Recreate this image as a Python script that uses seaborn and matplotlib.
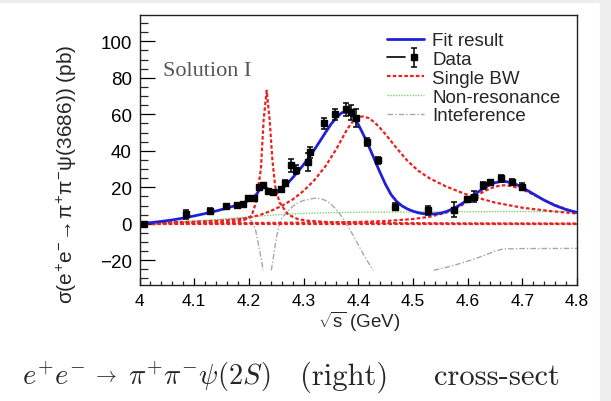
import matplotlib
matplotlib.use("Agg")
import matplotlib.pyplot as plt
from matplotlib.lines import Line2D
from matplotlib.patches import Rectangle
from matplotlib.ticker import MultipleLocator
from matplotlib.legend_handler import HandlerTuple
import seaborn as sns

# --- measured cross sections (sqrt(s) in GeV, sigma in pb) ---
data_x = [4.0076, 4.0855, 4.1285, 4.1574, 4.1781, 4.1889, 4.1990, 4.2092, 4.2187,
          4.2263, 4.2357, 4.2438, 4.2580, 4.2667, 4.2777, 4.2866, 4.3079, 4.3121,
          4.3374, 4.3583, 4.3774, 4.3874, 4.3964, 4.4156, 4.4362, 4.4671, 4.5271,
          4.5745, 4.5995, 4.6119, 4.6280, 4.6409, 4.6612, 4.6819, 4.6988]
data_y = [0.0, 5.3, 7.2, 9.9, 10.5, 10.7, 14.2, 14.0, 20.3, 21.2, 17.8, 17.2, 18.8,
          22.5, 32.0, 29.6, 34.0, 39.3, 55.0, 60.0, 62.8, 61.0, 58.0, 44.8, 34.8,
          9.3, 7.5, 7.7, 13.4, 14.7, 21.0, 22.7, 25.0, 23.1, 20.3]
data_err = [0.8, 2.5, 1.2, 1.0, 0.8, 1.0, 1.2, 1.2, 1.2, 1.0, 1.2, 1.2, 1.2, 1.5,
            3.5, 2.5, 5.0, 3.0, 3.0, 3.0, 3.5, 4.0, 5.0, 2.0, 2.0, 2.0, 2.5, 4.0,
            1.2, 3.0, 2.0, 1.5, 2.0, 1.5, 2.0]

# --- total fit ---
fit_x = [4.00, 4.02, 4.04, 4.06, 4.08, 4.10, 4.12, 4.14, 4.16, 4.18, 4.19, 4.20,
         4.21, 4.215, 4.22, 4.225, 4.23, 4.235, 4.24, 4.245, 4.25, 4.26, 4.27,
         4.28, 4.29, 4.30, 4.31, 4.32, 4.33, 4.34, 4.35, 4.36, 4.37, 4.38, 4.39,
         4.40, 4.41, 4.42, 4.43, 4.44, 4.45, 4.46, 4.47, 4.48, 4.49, 4.50, 4.51,
         4.52, 4.53, 4.54, 4.55, 4.56, 4.57, 4.58, 4.59, 4.60, 4.61, 4.62, 4.63,
         4.64, 4.65, 4.66, 4.67, 4.68, 4.69, 4.70, 4.72, 4.74, 4.76, 4.78, 4.80]
fit_y = [0.0, 0.6, 1.3, 2.1, 3.1, 4.3, 5.6, 7.0, 8.6, 10.4, 11.5, 12.8, 14.8,
         16.6, 18.9, 20.3, 20.2, 19.0, 17.8, 17.3, 17.6, 19.3, 21.9, 25.2, 28.7,
         32.4, 36.4, 40.7, 45.3, 50.0, 54.5, 58.3, 60.9, 61.4, 58.8, 54.5, 48.5,
         42.0, 35.0, 28.0, 21.5, 16.0, 12.3, 9.8, 8.1, 6.9, 6.0, 5.5, 5.3, 5.4,
         5.8, 6.6, 7.8, 9.3, 11.1, 13.2, 15.4, 17.6, 19.6, 21.3, 22.5, 23.1, 23.1,
         22.5, 21.4, 19.9, 16.4, 12.9, 10.0, 7.8, 6.2]

# --- single Breit-Wigner components ---
bw1_x = [4.00, 4.10, 4.15, 4.19, 4.205, 4.213, 4.222, 4.227, 4.2325, 4.238, 4.243,
         4.248, 4.256, 4.272, 4.29, 4.31, 4.35, 4.45, 4.60, 4.80]
bw1_y = [0.1, 0.4, 0.8, 1.8, 4.4, 11.7, 30.0, 57.0, 73.0, 57.0, 35.0, 20.8, 11.7,
         5.0, 2.5, 1.6, 0.8, 0.4, 0.2, 0.1]

bw2_x = [4.00, 4.05, 4.10, 4.15, 4.18, 4.20, 4.22, 4.24, 4.26, 4.28, 4.30, 4.32,
         4.34, 4.36, 4.38, 4.39, 4.40, 4.41, 4.42, 4.43, 4.44, 4.45, 4.47, 4.49,
         4.51, 4.53, 4.56, 4.60, 4.65, 4.70, 4.75, 4.80]
bw2_y = [0.6, 0.8, 1.1, 1.7, 2.4, 3.3, 4.8, 7.0, 9.8, 13.3, 18.0, 24.0, 31.5, 41.0,
         52.0, 56.0, 58.6, 58.8, 57.8, 55.5, 52.5, 49.0, 41.5, 34.5, 29.0, 25.0,
         20.5, 15.8, 11.6, 8.8, 7.0, 5.6]

bw3_x = [4.00, 4.10, 4.20, 4.30, 4.40, 4.45, 4.50, 4.53, 4.56, 4.59, 4.61, 4.63,
         4.645, 4.66, 4.67, 4.68, 4.70, 4.72, 4.74, 4.76, 4.78, 4.80]
bw3_y = [0.2, 0.3, 0.4, 0.6, 1.0, 1.5, 2.6, 3.8, 6.0, 10.3, 14.0, 17.8, 19.8, 21.0,
         21.1, 20.7, 18.9, 16.0, 13.0, 10.3, 8.0, 6.1]

bw4_x = [4.00, 4.40, 4.80]
bw4_y = [0.0, 0.0, 0.0]

# --- non-resonant term ---
nr_x = [4.00, 4.05, 4.10, 4.15, 4.20, 4.25, 4.30, 4.35, 4.40, 4.50, 4.60, 4.70, 4.80]
nr_y = [0.0, 0.6, 1.5, 2.5, 3.7, 4.9, 5.7, 6.1, 6.3, 6.5, 6.6, 6.7, 6.7]

# --- interference term (drawn in pieces, it leaves the plotted range twice) ---
int_a_x = [4.00, 4.05, 4.10, 4.15, 4.18, 4.195, 4.205, 4.212, 4.218, 4.223, 4.226]
int_a_y = [0.0, 0.5, 1.2, 2.2, 3.0, 3.2, 1.5, -3.0, -12.0, -20.0, -25.5]
int_b_x = [4.241, 4.245, 4.25, 4.255, 4.26, 4.27, 4.28, 4.29, 4.30, 4.32, 4.33,
           4.34, 4.35, 4.36, 4.37, 4.38, 4.39, 4.40, 4.41, 4.42, 4.427]
int_b_y = [-25.5, -18.0, -8.0, -1.0, 3.0, 6.5, 9.5, 11.5, 12.8, 14.0, 13.8, 12.8,
           10.8, 7.8, 3.8, -0.8, -6.0, -11.5, -17.0, -22.0, -25.5]
int_c_x = [4.538, 4.56, 4.59, 4.62, 4.65, 4.665, 4.70, 4.80]
int_c_y = [-25.5, -24.0, -21.5, -18.5, -15.0, -13.8, -13.6, -13.5]

x_ticks = [4.0, 4.1, 4.2, 4.3, 4.4, 4.5, 4.6, 4.7, 4.8]
x_ticklabels = ["4", "4.1", "4.2", "4.3", "4.4", "4.5", "4.6", "4.7", "4.8"]
y_ticks = [-20, 0, 20, 40, 60, 80, 100]

legend_labels = ["Fit result", "Data", "Single BW", "Non-resonance", "Inteference"]

# ---------------------------------------------------------------------------
sns.set_theme(style="ticks")
plt.rcParams["font.family"] = ["Liberation Sans", "DejaVu Sans"]
plt.rcParams["mathtext.fontset"] = "custom"
plt.rcParams["mathtext.rm"] = "Liberation Sans"
plt.rcParams["mathtext.it"] = "Liberation Sans"
plt.rcParams["mathtext.sf"] = "Liberation Sans"
plt.rcParams["mathtext.bf"] = "Liberation Sans:bold"

W, H = 611, 402
fig = plt.figure(figsize=(W / 100, H / 100), dpi=100)
fig.patch.set_facecolor("white")
# light border strips around the page
fig.patches.append(Rectangle((600 / W, 0), 1, 1, transform=fig.transFigure,
                             color="#eeeeee", zorder=-5))
fig.patches.append(Rectangle((0, 1 - 3 / H), 1, 1, transform=fig.transFigure,
                             color="#eeeeee", zorder=-5))

ax = fig.add_axes([139.5 / W, 1 - 285.7 / H, (577 - 139.5) / W, (285.7 - 15.7) / H])
ax.set_facecolor("white")

red_dash = (0, (1.6, 1.0))
green_dot = (0, (1, 1))
grey_dashdot = (0, (4, 1.5, 1, 1.5))
blue = "#2020d8"
red = "#e8221e"
green = "#7ccf74"
grey = "#a8a8a8"

for bx, by in [(bw1_x, bw1_y), (bw2_x, bw2_y), (bw3_x, bw3_y), (bw4_x, bw4_y)]:
    sns.lineplot(x=bx, y=by, ax=ax, color=red, lw=1.6, linestyle=red_dash,
                 estimator=None, sort=False, zorder=3)
sns.lineplot(x=nr_x, y=nr_y, ax=ax, color=green, lw=1.0, linestyle=green_dot,
             estimator=None, sort=False, zorder=2)
for ix, iy in [(int_a_x, int_a_y), (int_b_x, int_b_y), (int_c_x, int_c_y)]:
    sns.lineplot(x=ix, y=iy, ax=ax, color=grey, lw=1.0, linestyle=grey_dashdot,
                 estimator=None, sort=False, zorder=2)
sns.lineplot(x=fit_x, y=fit_y, ax=ax, color=blue, lw=2.0, estimator=None,
             sort=False, zorder=4)
err = ax.errorbar(data_x, data_y, yerr=data_err, fmt="s", color="black",
                  ms=4.0, elinewidth=1.1, capsize=2.2, capthick=1.1, zorder=5)

ax.set_xlim(4.0, 4.8)
ax.set_ylim(-33.4, 114.6)
ax.set_xticks(x_ticks)
ax.set_xticklabels(x_ticklabels)
ax.set_yticks(y_ticks)
ax.set_yticklabels([str(v).replace("-", "\u2212") for v in y_ticks])
ax.xaxis.set_minor_locator(MultipleLocator(0.02))
ax.yaxis.set_minor_locator(MultipleLocator(5))
ax.tick_params(axis="x", which="major", direction="in", length=5, width=0.9,
               labelsize=12.5, pad=6, colors="black")
ax.tick_params(axis="x", which="minor", direction="in", length=2.6, width=0.9)
ax.tick_params(axis="y", which="major", direction="in", length=11, width=0.9,
               labelsize=13.5, pad=5.5, colors="black")
ax.tick_params(axis="y", which="minor", direction="in", length=5.5, width=0.9)
for s in ax.spines.values():
    s.set_linewidth(1.0)
    s.set_color("#222222")
ax.set_xlabel("")
ax.set_ylabel("")

fig.text(359 / W, 1 - 322 / H, r"$\sqrt{s}$ (GeV)", ha="center", va="center",
         fontsize=13.5)
fig.text(67 / W, 1 - 174 / H,
         r"$\sigma(e^{+}e^{-}\!\rightarrow\!\pi^{+}\pi^{-}\psi(3686))$ (pb)",
         rotation=90, ha="center", va="center", fontsize=15)

fig.text(163 / W, 1 - 76 / H, "Solution I", family="Liberation Serif",
         fontsize=16, color="#555555", ha="left", va="baseline")

data_handle = (Line2D([], [], color="black", lw=1.2), err)
handles = [
    Line2D([], [], color=blue, lw=2.0),
    data_handle,
    Line2D([], [], color=red, lw=1.6, linestyle=red_dash),
    Line2D([], [], color=green, lw=1.0, linestyle=green_dot),
    Line2D([], [], color=grey, lw=1.0, linestyle=grey_dashdot),
]
leg = ax.legend(handles, legend_labels, loc="upper left",
                bbox_to_anchor=(387 / W, 1 - 33 / H), bbox_transform=fig.transFigure,
                frameon=False, fontsize=13.5, handlelength=1.95, handletextpad=0.45,
                labelspacing=0.09, borderpad=0, borderaxespad=0,
                handler_map={tuple: HandlerTuple(ndivide=None, pad=0)})

# caption line below the figure
base = 1 - 385 / H
cap = 20.5
fig.text(22 / W, base, r"$e^{+}e^{-}$", math_fontfamily="cm", fontsize=cap,
         va="baseline")
fig.text(92 / W, 1 - 382 / H, r"$\rightarrow$", math_fontfamily="cm", fontsize=15,
         va="baseline")
fig.text(128 / W, base, r"$\pi^{+}\pi^{-}\psi(2S)$", math_fontfamily="cm",
         fontsize=cap, va="baseline")
fig.text(300 / W, base, "(right)", family="cmr10", fontsize=22, va="baseline")
fig.text(434 / W, base, "cross-sect", family="cmr10", fontsize=22, va="baseline")

fig.savefig("out.png", dpi=100)
